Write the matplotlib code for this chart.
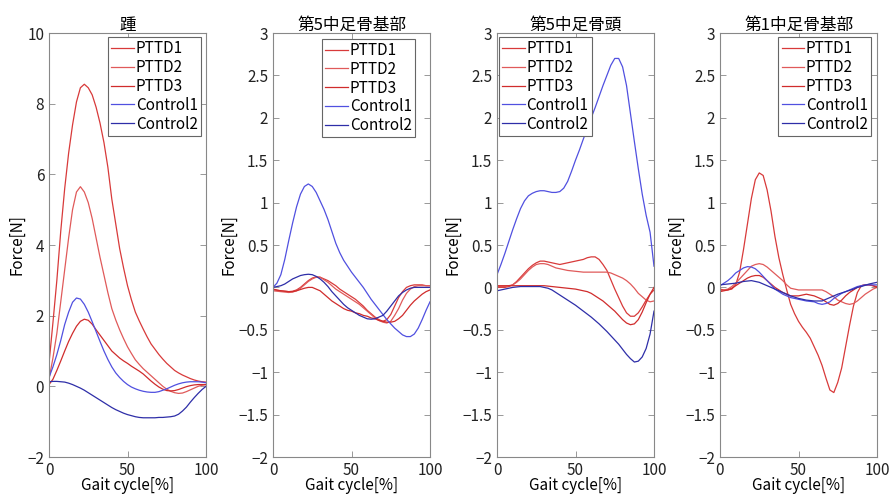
import numpy as np
import matplotlib.pyplot as plt

plt.rcParams['font.family'] = ['Noto Sans CJK JP', 'DejaVu Sans']

# gait cycle sampled every 2.5 %
t = np.linspace(0, 100, 41)
names = ['PTTD1', 'PTTD2', 'PTTD3', 'Control1', 'Control2']
colors = ['#d83a3a', '#e05a5a', '#d02c2c', '#5050e0', '#2e2ea8']

titles = ['踵', '第5中足骨基部', '第5中足骨頭', '第1中足骨基部']

# 踵
heel_pttd1 = [0.65, 1.8, 3.0, 4.4, 5.6, 6.6, 7.4, 8.05, 8.45, 8.55, 8.45, 8.25, 7.9, 7.45, 6.9, 6.2, 5.3, 4.6, 3.9, 3.35,
              2.85, 2.45, 2.1, 1.85, 1.62, 1.4, 1.2, 1.05, 0.9, 0.77, 0.65, 0.55, 0.45, 0.38, 0.32, 0.27, 0.22, 0.18, 0.15, 0.13, 0.12]
heel_pttd2 = [0.2, 0.8, 1.5, 2.4, 3.3, 4.2, 5.0, 5.5, 5.65, 5.5, 5.2, 4.75, 4.2, 3.65, 3.15, 2.65, 2.2, 1.88, 1.6, 1.35,
              1.12, 0.93, 0.75, 0.62, 0.5, 0.4, 0.3, 0.2, 0.1, 0.0, -0.08, -0.14, -0.18, -0.2, -0.19, -0.15, -0.1, -0.05, 0.0, 0.03, 0.05]
heel_pttd3 = [0.05, 0.2, 0.45, 0.72, 1.0, 1.27, 1.5, 1.7, 1.84, 1.9, 1.87, 1.76, 1.6, 1.45, 1.3, 1.15, 1.0, 0.9, 0.8, 0.72,
              0.65, 0.57, 0.5, 0.43, 0.35, 0.25, 0.15, 0.06, -0.02, -0.08, -0.12, -0.13, -0.12, -0.09, -0.05, -0.01, 0.02, 0.04, 0.05, 0.05, 0.05]
heel_ctrl1 = [0.25, 0.55, 0.9, 1.3, 1.75, 2.1, 2.38, 2.5, 2.47, 2.32, 2.1, 1.83, 1.55, 1.27, 1.0, 0.76, 0.55, 0.38, 0.25, 0.14,
              0.05, -0.02, -0.07, -0.11, -0.14, -0.16, -0.17, -0.17, -0.15, -0.11, -0.07, -0.02, 0.03, 0.07, 0.1, 0.12, 0.13, 0.13, 0.13, 0.12, 0.1]
heel_ctrl2 = [0.13, 0.14, 0.14, 0.13, 0.12, 0.09, 0.05, 0.0, -0.05, -0.11, -0.18, -0.25, -0.32, -0.39, -0.46, -0.53, -0.6, -0.66, -0.71, -0.76,
              -0.8, -0.83, -0.86, -0.88, -0.89, -0.89, -0.89, -0.89, -0.88, -0.88, -0.87, -0.86, -0.84, -0.79, -0.7, -0.59, -0.45, -0.32, -0.2, -0.09, 0.0]

# 第5中足骨基部
m5b_pttd1 = [-0.03, -0.035, -0.04, -0.045, -0.05, -0.045, -0.03, 0.0, 0.04, 0.08, 0.11, 0.125, 0.12, 0.1, 0.08, 0.05, 0.02, -0.02, -0.05, -0.08,
             -0.11, -0.14, -0.18, -0.22, -0.27, -0.31, -0.35, -0.38, -0.4, -0.38, -0.32, -0.22, -0.12, -0.05, 0.0, 0.02, 0.03, 0.03, 0.03, 0.02, 0.02]
m5b_pttd2 = [-0.04, -0.045, -0.05, -0.055, -0.06, -0.055, -0.04, -0.01, 0.03, 0.07, 0.1, 0.12, 0.12, 0.09, 0.06, 0.02, -0.02, -0.05, -0.08, -0.11,
             -0.14, -0.17, -0.2, -0.24, -0.28, -0.32, -0.36, -0.39, -0.41, -0.42, -0.4, -0.33, -0.25, -0.15, -0.07, -0.02, 0.01, 0.02, 0.02, 0.02, 0.02]
m5b_pttd3 = [-0.02, -0.03, -0.04, -0.045, -0.05, -0.05, -0.04, -0.025, -0.01, 0.0, 0.0, -0.02, -0.04, -0.08, -0.12, -0.16, -0.19, -0.22, -0.25, -0.27,
             -0.28, -0.3, -0.31, -0.33, -0.34, -0.36, -0.37, -0.39, -0.4, -0.41, -0.41, -0.4, -0.37, -0.33, -0.27, -0.21, -0.16, -0.12, -0.08, -0.05, -0.03]
m5b_ctrl1 = [0.0, 0.05, 0.15, 0.33, 0.55, 0.76, 0.95, 1.1, 1.19, 1.22, 1.19, 1.12, 1.02, 0.92, 0.8, 0.66, 0.52, 0.41, 0.32, 0.25,
             0.18, 0.12, 0.06, 0.0, -0.07, -0.14, -0.2, -0.26, -0.32, -0.38, -0.43, -0.48, -0.52, -0.56, -0.58, -0.58, -0.55, -0.48, -0.38, -0.27, -0.17]
m5b_ctrl2 = [0.0, 0.01, 0.02, 0.04, 0.07, 0.1, 0.12, 0.14, 0.15, 0.155, 0.15, 0.13, 0.1, 0.06, 0.01, -0.05, -0.1, -0.15, -0.2, -0.24,
             -0.27, -0.3, -0.33, -0.35, -0.37, -0.375, -0.37, -0.35, -0.33, -0.28, -0.22, -0.16, -0.1, -0.06, -0.03, -0.01, 0.0, 0.0, 0.0, 0.0, 0.0]

# 第5中足骨頭
m5h_pttd1 = [0.0, 0.0, 0.0, 0.01, 0.03, 0.07, 0.12, 0.17, 0.22, 0.26, 0.29, 0.31, 0.31, 0.3, 0.29, 0.28, 0.27, 0.28, 0.29, 0.3,
             0.31, 0.32, 0.33, 0.35, 0.36, 0.36, 0.33, 0.27, 0.2, 0.09, -0.02, -0.12, -0.22, -0.3, -0.34, -0.34, -0.3, -0.23, -0.15, -0.08, -0.03]
m5h_pttd2 = [0.01, 0.01, 0.01, 0.02, 0.03, 0.06, 0.1, 0.15, 0.2, 0.24, 0.27, 0.28, 0.28, 0.27, 0.25, 0.23, 0.22, 0.21, 0.2, 0.195,
             0.19, 0.185, 0.18, 0.18, 0.18, 0.18, 0.18, 0.18, 0.18, 0.17, 0.15, 0.13, 0.11, 0.08, 0.04, -0.01, -0.07, -0.11, -0.15, -0.17, -0.16]
m5h_pttd3 = [0.02, 0.02, 0.02, 0.02, 0.02, 0.02, 0.02, 0.02, 0.02, 0.02, 0.02, 0.02, 0.02, 0.015, 0.01, 0.005, 0.0, -0.005, -0.01, -0.015,
             -0.02, -0.03, -0.04, -0.05, -0.07, -0.1, -0.13, -0.16, -0.2, -0.24, -0.28, -0.33, -0.38, -0.42, -0.44, -0.43, -0.38, -0.29, -0.18, -0.08, 0.0]
m5h_ctrl1 = [0.15, 0.27, 0.4, 0.54, 0.68, 0.81, 0.93, 1.02, 1.08, 1.11, 1.13, 1.14, 1.14, 1.13, 1.12, 1.12, 1.13, 1.17, 1.25, 1.37,
             1.5, 1.62, 1.75, 1.87, 2.0, 2.12, 2.25, 2.38, 2.5, 2.62, 2.7, 2.7, 2.6, 2.38, 2.05, 1.72, 1.4, 1.1, 0.85, 0.65, 0.25]
m5h_ctrl2 = [-0.04, -0.03, -0.02, -0.01, 0.0, 0.005, 0.01, 0.01, 0.01, 0.01, 0.01, 0.01, 0.0, -0.01, -0.03, -0.06, -0.09, -0.12, -0.15, -0.18,
             -0.21, -0.245, -0.28, -0.315, -0.35, -0.39, -0.43, -0.475, -0.52, -0.57, -0.62, -0.67, -0.73, -0.79, -0.84, -0.88, -0.87, -0.82, -0.72, -0.55, -0.28]

# 第1中足骨基部
m1b_pttd1 = [-0.02, -0.03, -0.03, -0.02, 0.03, 0.18, 0.45, 0.75, 1.05, 1.27, 1.35, 1.32, 1.15, 0.9, 0.6, 0.35, 0.15, -0.03, -0.2, -0.31,
             -0.4, -0.47, -0.53, -0.6, -0.7, -0.8, -0.92, -1.07, -1.21, -1.24, -1.12, -0.95, -0.7, -0.45, -0.22, -0.06, 0.02, 0.03, 0.03, 0.02, 0.01]
m1b_pttd2 = [-0.04, -0.03, -0.02, 0.01, 0.05, 0.1, 0.15, 0.2, 0.25, 0.27, 0.28, 0.27, 0.24, 0.2, 0.16, 0.12, 0.08, 0.03, -0.01, -0.02,
             -0.03, -0.03, -0.03, -0.03, -0.03, -0.03, -0.03, -0.05, -0.08, -0.11, -0.15, -0.17, -0.19, -0.2, -0.19, -0.16, -0.12, -0.08, -0.05, -0.02, 0.0]
m1b_pttd3 = [-0.05, -0.04, -0.03, -0.01, 0.02, 0.05, 0.08, 0.11, 0.13, 0.14, 0.14, 0.12, 0.08, 0.04, 0.0, -0.03, -0.06, -0.08, -0.1, -0.1,
             -0.1, -0.09, -0.08, -0.09, -0.1, -0.12, -0.14, -0.17, -0.2, -0.21, -0.19, -0.15, -0.1, -0.06, -0.03, 0.0, 0.02, 0.03, 0.03, 0.02, 0.0]
m1b_ctrl1 = [0.02, 0.05, 0.08, 0.12, 0.17, 0.2, 0.23, 0.245, 0.24, 0.22, 0.18, 0.13, 0.08, 0.03, -0.02, -0.05, -0.08, -0.1, -0.12, -0.13,
             -0.14, -0.15, -0.16, -0.165, -0.17, -0.19, -0.2, -0.19, -0.17, -0.13, -0.1, -0.07, -0.05, -0.03, -0.01, 0.01, 0.02, 0.03, 0.03, 0.03, 0.03]
m1b_ctrl2 = [0.03, 0.035, 0.04, 0.045, 0.05, 0.06, 0.07, 0.075, 0.08, 0.07, 0.06, 0.04, 0.02, 0.0, -0.02, -0.04, -0.06, -0.08, -0.1, -0.115,
             -0.13, -0.14, -0.15, -0.155, -0.16, -0.16, -0.16, -0.14, -0.12, -0.1, -0.08, -0.065, -0.05, -0.035, -0.02, 0.0, 0.01, 0.025, 0.04, 0.05, 0.06]

panels = [
    [heel_pttd1, heel_pttd2, heel_pttd3, heel_ctrl1, heel_ctrl2],
    [m5b_pttd1, m5b_pttd2, m5b_pttd3, m5b_ctrl1, m5b_ctrl2],
    [m5h_pttd1, m5h_pttd2, m5h_pttd3, m5h_ctrl1, m5h_ctrl2],
    [m1b_pttd1, m1b_pttd2, m1b_pttd3, m1b_ctrl1, m1b_ctrl2],
]
ylims = [(-2, 10), (-2, 3), (-2, 3), (-2, 3)]
yticks = [np.arange(-2, 11, 2), np.arange(-2, 3.1, 0.5), np.arange(-2, 3.1, 0.5), np.arange(-2, 3.1, 0.5)]
legend_loc = ['upper right', 'upper right', 'upper left', 'upper right']
legend_anchor = [(0.968, 0.99), (0.904, 0.986), (0.013, 0.99), (0.962, 0.99)]
lefts = [49, 273, 497, 720]

fig = plt.figure(figsize=(8.9, 4.98), dpi=100)

for i in range(4):
    ax = fig.add_axes([lefts[i] / 890, 41 / 498, 157 / 890, 424 / 498])
    for s, name, c in zip(panels[i], names, colors):
        ax.plot(t, s, color=c, linewidth=0.9, label=name)
    ax.set_xlim(0, 100)
    ax.set_ylim(*ylims[i])
    ax.set_xticks([0, 50, 100])
    ax.set_yticks(yticks[i])
    ax.set_yticklabels(['{:g}'.format(v).replace('-', '\u2212') for v in yticks[i]])
    ax.tick_params(direction='in', top=True, right=True, labelsize=11,
                   labelcolor='#222222', length=4, width=0.6, color='#888888')
    for sp in ax.spines.values():
        sp.set_color('#888888')
        sp.set_linewidth(0.8)
    ax.set_title(titles[i], fontsize=12, pad=2)
    ax.set_xlabel('Gait cycle[%]', fontsize=11, labelpad=-1)
    ax.set_ylabel('Force[N]', fontsize=11, labelpad=1)
    leg = ax.legend(loc=legend_loc[i], bbox_to_anchor=legend_anchor[i], fontsize=11,
                    fancybox=False, framealpha=1, edgecolor='#666666', borderpad=0.2,
                    labelspacing=0.12, handlelength=1.5, handletextpad=0.1, borderaxespad=0)
    leg.get_frame().set_linewidth(0.8)

fig.savefig('out.png', dpi=100)
